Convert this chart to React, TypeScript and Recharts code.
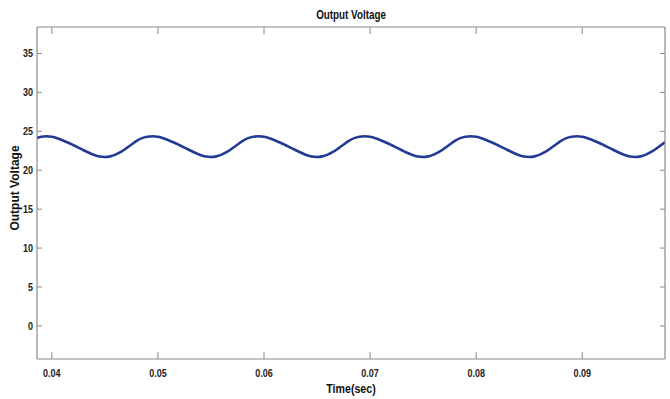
import React from 'react';
import { LineChart, Line, XAxis, YAxis } from 'recharts';

const times: number[] = [
  0.0385, 0.039, 0.0395, 0.04, 0.0405, 0.041, 0.0415, 0.042, 0.0425, 0.043,
  0.0435, 0.044, 0.0445, 0.045, 0.0455, 0.046, 0.0465, 0.047, 0.0475, 0.048,
  0.0485, 0.049, 0.0495, 0.05, 0.0505, 0.051, 0.0515, 0.052, 0.0525, 0.053,
  0.0535, 0.054, 0.0545, 0.055, 0.0555, 0.056, 0.0565, 0.057, 0.0575, 0.058,
  0.0585, 0.059, 0.0595, 0.06, 0.0605, 0.061, 0.0615, 0.062, 0.0625, 0.063,
  0.0635, 0.064, 0.0645, 0.065, 0.0655, 0.066, 0.0665, 0.067, 0.0675, 0.068,
  0.0685, 0.069, 0.0695, 0.07, 0.0705, 0.071, 0.0715, 0.072, 0.0725, 0.073,
  0.0735, 0.074, 0.0745, 0.075, 0.0755, 0.076, 0.0765, 0.077, 0.0775, 0.078,
  0.0785, 0.079, 0.0795, 0.08, 0.0805, 0.081, 0.0815, 0.082, 0.0825, 0.083,
  0.0835, 0.084, 0.0845, 0.085, 0.0855, 0.086, 0.0865, 0.087, 0.0875, 0.088,
  0.0885, 0.089, 0.0895, 0.09, 0.0905, 0.091, 0.0915, 0.092, 0.0925, 0.093,
  0.0935, 0.094, 0.0945, 0.095, 0.0955, 0.096, 0.0965, 0.097, 0.0975, 0.098,
];

const voltage: number[] = [
  24.12, 24.3, 24.37, 24.3, 24.12, 23.86, 23.56, 23.24, 22.91, 22.57,
  22.24, 21.95, 21.76, 21.7, 21.78, 22.0, 22.35, 22.8, 23.3, 23.78,
  24.12, 24.3, 24.37, 24.3, 24.12, 23.86, 23.56, 23.24, 22.91, 22.57,
  22.24, 21.95, 21.76, 21.7, 21.78, 22.0, 22.35, 22.8, 23.3, 23.78,
  24.12, 24.3, 24.37, 24.3, 24.12, 23.86, 23.56, 23.24, 22.91, 22.57,
  22.24, 21.95, 21.76, 21.7, 21.78, 22.0, 22.35, 22.8, 23.3, 23.78,
  24.12, 24.3, 24.37, 24.3, 24.12, 23.86, 23.56, 23.24, 22.91, 22.57,
  22.24, 21.95, 21.76, 21.7, 21.78, 22.0, 22.35, 22.8, 23.3, 23.78,
  24.12, 24.3, 24.37, 24.3, 24.12, 23.86, 23.56, 23.24, 22.91, 22.57,
  22.24, 21.95, 21.76, 21.7, 21.78, 22.0, 22.35, 22.8, 23.3, 23.78,
  24.12, 24.3, 24.37, 24.3, 24.12, 23.86, 23.56, 23.24, 22.91, 22.57,
  22.24, 21.95, 21.76, 21.7, 21.78, 22.0, 22.35, 22.8, 23.3, 23.78,
];

const xTicks: number[] = [0.04, 0.05, 0.06, 0.07, 0.08, 0.09];
const xTickLabels: string[] = ['0.04', '0.05', '0.06', '0.07', '0.08', '0.09'];
const yTicks: number[] = [0, 5, 10, 15, 20, 25, 30, 35];
const xDomain: [number, number] = [0.0386, 0.0978];
const yDomain: [number, number] = [-4.25, 38.4];

const data = times.map((t, i) => ({ t, v: voltage[i] }));

const SANS = "'Liberation Sans', Arial, sans-serif";
const AXIS = '#8a8a8a';
const SQUEEZE = 0.82;
const NoTick = () => <g />;

const XTick = (props: any) => {
  const { x, y, payload } = props;
  const idx = xTicks.indexOf(payload.value);
  const label = idx >= 0 ? xTickLabels[idx] : String(payload.value);
  return (
    <text
      transform={`translate(${x},${y}) scale(${SQUEEZE},1)`}
      textAnchor="middle"
      dy="0.71em"
      style={{ fontFamily: SANS, fontSize: 11, fontWeight: 700, fill: '#222' }}
    >
      {label}
    </text>
  );
};

const YTick = (props: any) => {
  const { x, y, payload } = props;
  return (
    <text
      transform={`translate(${x},${y}) scale(${SQUEEZE},1)`}
      textAnchor="end"
      dy="0.355em"
      style={{ fontFamily: SANS, fontSize: 11, fontWeight: 700, fill: '#222' }}
    >
      {String(payload.value)}
    </text>
  );
};

export default function App() {
  return (
    <div style={{ position: 'absolute', left: 0, top: 0, width: 670, height: 399, background: '#fff' }}>
      <LineChart width={670} height={399} data={data} margin={{ top: 27, right: 5, bottom: 0, left: 0 }}>
        <text
          transform={`translate(351,19) scale(${SQUEEZE},1)`}
          textAnchor="middle"
          style={{ fontFamily: SANS, fontSize: 12, fontWeight: 700, fill: '#111' }}
        >
          Output Voltage
        </text>
        <text
          transform={`translate(351,393) scale(${SQUEEZE},1)`}
          textAnchor="middle"
          style={{ fontFamily: SANS, fontSize: 13, fontWeight: 700, fill: '#111' }}
        >
          Time(sec)
        </text>
        <text
          transform="translate(19,188) rotate(-90)"
          textAnchor="middle"
          style={{ fontFamily: SANS, fontSize: 12, fontWeight: 700, fill: '#111' }}
        >
          Output Voltage
        </text>
        <XAxis
          xAxisId="x"
          dataKey="t"
          type="number"
          domain={xDomain}
          ticks={xTicks}
          allowDataOverflow
          height={40}
          tickSize={0}
          tickLine={false}
          tickMargin={10}
          axisLine={{ stroke: AXIS, strokeWidth: 1.2 }}
          tick={XTick}
        />
        <XAxis
          xAxisId="xb"
          dataKey="t"
          type="number"
          orientation="bottom"
          mirror
          domain={xDomain}
          ticks={xTicks}
          allowDataOverflow
          height={10}
          tick={NoTick}
          tickSize={7}
          tickLine={{ stroke: AXIS }}
          axisLine={false}
        />
        <XAxis
          xAxisId="xt"
          dataKey="t"
          type="number"
          orientation="top"
          mirror
          domain={xDomain}
          ticks={xTicks}
          allowDataOverflow
          height={10}
          tick={NoTick}
          tickSize={7}
          tickLine={{ stroke: AXIS }}
          axisLine={{ stroke: AXIS, strokeWidth: 1.2 }}
        />
        <YAxis
          yAxisId="y"
          type="number"
          domain={yDomain}
          ticks={yTicks}
          allowDataOverflow
          width={37}
          tickSize={0}
          tickLine={false}
          tickMargin={4}
          axisLine={{ stroke: AXIS, strokeWidth: 1.2 }}
          tick={YTick}
        />
        <YAxis
          yAxisId="yl"
          type="number"
          orientation="left"
          mirror
          domain={yDomain}
          ticks={yTicks}
          allowDataOverflow
          width={10}
          tick={NoTick}
          tickSize={5}
          tickLine={{ stroke: AXIS }}
          axisLine={false}
        />
        <YAxis
          yAxisId="yr"
          type="number"
          orientation="right"
          mirror
          domain={yDomain}
          ticks={yTicks}
          allowDataOverflow
          width={10}
          tick={NoTick}
          tickSize={5}
          tickLine={{ stroke: AXIS }}
          axisLine={{ stroke: AXIS, strokeWidth: 1.2 }}
        />
        <Line
          xAxisId="x"
          yAxisId="y"
          dataKey="v"
          type="monotone"
          stroke="#213a94"
          strokeWidth={2.6}
          dot={false}
          isAnimationActive={false}
        />
      </LineChart>
    </div>
  );
}
